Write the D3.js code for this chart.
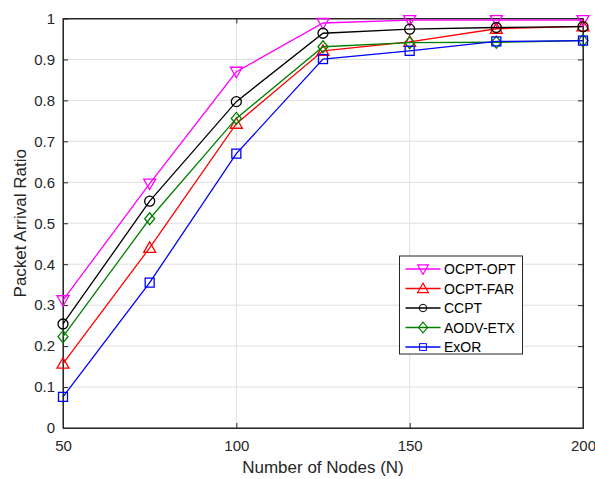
<!DOCTYPE html>
<html>
<head>
<meta charset="utf-8">
<script src="https://cdn.jsdelivr.net/npm/d3@7"></script>
<style>
  body { margin: 0; background: #fff; }
  text { font-family: "Liberation Sans", Arial, sans-serif; }
</style>
</head>
<body>
<div class="container"></div>
<script>
let nodes = [50, 75, 100, 125, 150, 175, 200];
let opt  = [0.312, 0.597, 0.870, 0.989, 0.996, 0.996, 0.996];
let far  = [0.157, 0.440, 0.743, 0.921, 0.943, 0.975, 0.981];
let ccpt = [0.254, 0.554, 0.797, 0.964, 0.974, 0.978, 0.980];
let aodv = [0.223, 0.511, 0.756, 0.931, 0.941, 0.942, 0.946];
let exor = [0.076, 0.355, 0.670, 0.901, 0.921, 0.944, 0.946];
let xTicks = [50, 100, 150, 200];
let yTicks = d3.range(0, 11).map(d => d / 10);

let series = [
  {name: "OCPT-OPT", values: opt,  color: "#ff00ff", marker: "down"},
  {name: "OCPT-FAR", values: far,  color: "#ff0000", marker: "up"},
  {name: "CCPT",     values: ccpt, color: "#000000", marker: "circle"},
  {name: "AODV-ETX", values: aodv, color: "#008000", marker: "diamond"},
  {name: "ExOR",     values: exor, color: "#0000ff", marker: "square"}
];

let margin = {top: 18.5, right: 12, bottom: 51, left: 63},
  width = 595 - margin.left - margin.right,
  height = 479 - margin.top - margin.bottom;

let svg = d3.select(".container").append("svg")
    .attr("width", 595)
    .attr("height", 479)
  .append("g")
    .attr("transform", "translate(" + margin.left + "," + margin.top + ")");

let x = d3.scaleLinear().domain([50, 200]).range([0, width]);
let y = d3.scaleLinear().domain([0, 1]).range([height, 0]);

// grid
svg.append("g").selectAll("line").data(xTicks).enter().append("line")
  .attr("x1", d => x(d)).attr("x2", d => x(d))
  .attr("y1", 0).attr("y2", height)
  .style("stroke", "#dfdfdf").style("stroke-width", 1);
svg.append("g").selectAll("line").data(yTicks).enter().append("line")
  .attr("x1", 0).attr("x2", width)
  .attr("y1", d => y(d)).attr("y2", d => y(d))
  .style("stroke", "#dfdfdf").style("stroke-width", 1);

// axes, ticks inside
svg.append("g")
  .attr("transform", "translate(0," + height + ")")
  .call(d3.axisBottom(x).tickValues(xTicks).tickSizeInner(-5).tickSizeOuter(0).tickPadding(12));
svg.append("g")
  .call(d3.axisLeft(y).tickValues(yTicks).tickFormat(d3.format("~g")).tickSizeInner(-5).tickSizeOuter(0).tickPadding(8));
svg.append("g")
  .attr("transform", "translate(" + width + ",0)")
  .call(d3.axisRight(y).tickValues(yTicks).tickSizeInner(-5).tickSizeOuter(0).tickFormat(""));
svg.append("g")
  .call(d3.axisTop(x).tickValues(xTicks).tickSizeInner(-5).tickSizeOuter(0).tickFormat(""));

svg.selectAll(".domain, .tick line").style("stroke", "#262626");
svg.selectAll(".tick text").style("font-size", "15px").style("fill", "#262626")
  .style("font-family", "'Liberation Sans', Arial, sans-serif");

svg.append("rect")
  .attr("width", width).attr("height", height)
  .style("fill", "none").style("stroke", "#262626").style("stroke-width", 1);

let marker = (g, type, color) => {
  let p;
  if (type == "circle") p = g.append("circle").attr("r", 5);
  else if (type == "square") p = g.append("rect").attr("x", -4.5).attr("y", -4.5).attr("width", 9).attr("height", 9);
  else if (type == "diamond") p = g.append("path").attr("d", "M0,-6L5,0L0,6L-5,0Z");
  else if (type == "up") p = g.append("path").attr("d", "M0,-6L6,4.5L-6,4.5Z");
  else p = g.append("path").attr("d", "M0,6L6,-4.5L-6,-4.5Z");
  p.style("fill", "none").style("stroke", color).style("stroke-width", 1.3);
};

let line = d3.line().x((d, i) => x(nodes[i])).y(d => y(d));

for (let s of series) {
  svg.append("path")
    .datum(s.values)
    .attr("d", line)
    .style("fill", "none")
    .style("stroke", s.color)
    .style("stroke-width", 1.3);
  s.values.forEach((v, i) => {
    let g = svg.append("g").attr("transform", "translate(" + x(nodes[i]) + "," + y(v) + ")");
    marker(g, s.marker, s.color);
  });
}

// labels
svg.append("text")
  .text("Number of Nodes (N)")
  .attr("text-anchor", "middle")
  .attr("x", width / 2)
  .attr("y", height + 45)
  .style("font-size", "17px").style("fill", "#262626");
svg.append("text")
  .text("Packet Arrival Ratio")
  .attr("text-anchor", "middle")
  .attr("transform", "translate(" + (-37) + "," + (height / 2) + ") rotate(-90)")
  .style("font-size", "17px").style("fill", "#262626");

// legend
let lx = 399.5 - margin.left, ly = 256 - margin.top;
let legend = svg.append("g").attr("transform", "translate(" + lx + "," + ly + ")");
legend.append("rect")
  .attr("width", 123).attr("height", 98)
  .style("fill", "#fff").style("stroke", "#262626").style("stroke-width", 1);
series.forEach((s, i) => {
  let row = legend.append("g").attr("transform", "translate(0," + (13 + i * 19.5) + ")");
  row.append("line").attr("x1", 6).attr("x2", 41)
    .style("stroke", s.color).style("stroke-width", 1.3);
  let mg = row.append("g").attr("transform", "translate(23.5,0) scale(" + (s.marker == "circle" || s.marker == "square" ? 0.75 : 0.9) + ")");
  marker(mg, s.marker, s.color);
  row.append("text").text(s.name)
    .attr("x", 44.5).attr("y", 5)
    .style("font-size", "14px").style("fill", "#000");
});
</script>
</body>
</html>
